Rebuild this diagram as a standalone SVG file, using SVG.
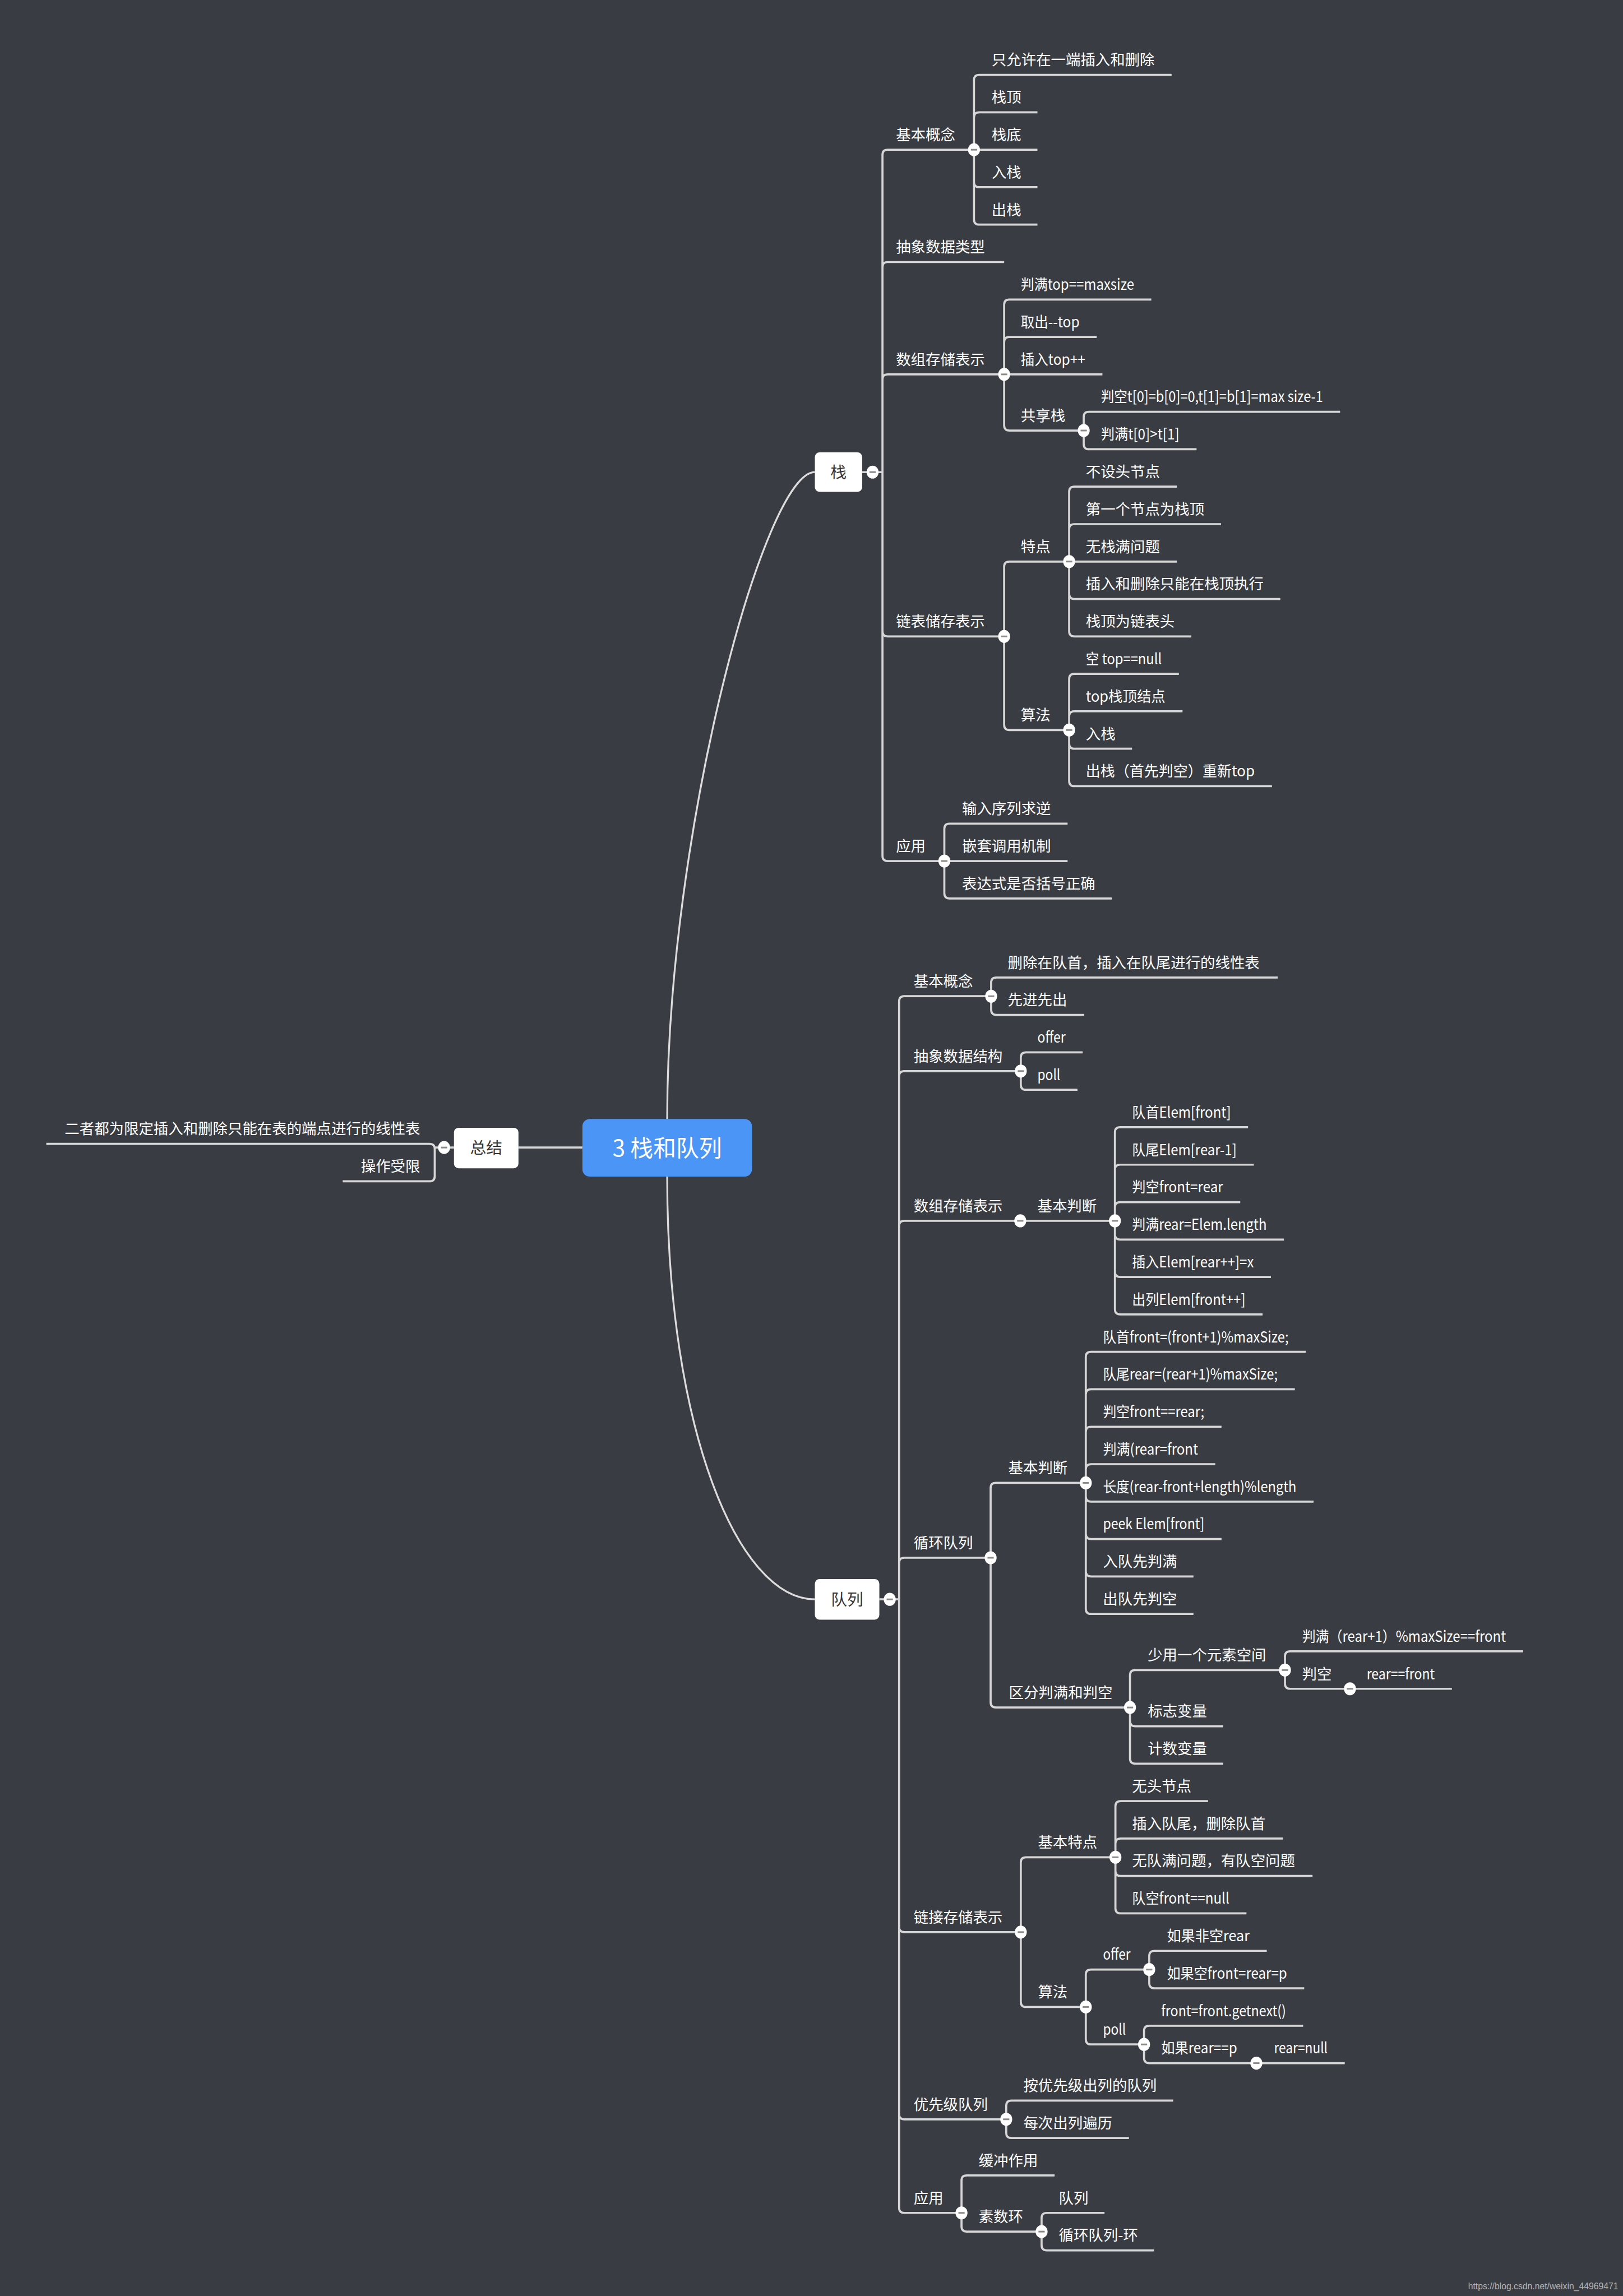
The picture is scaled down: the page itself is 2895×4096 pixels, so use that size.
<svg xmlns="http://www.w3.org/2000/svg" width="2895" height="4096" viewBox="0 0 2895 4096">
<defs>
<style>
.bg{fill:#393c42}
.ln{fill:none;stroke:#d6d6d6;stroke-width:4;stroke-linecap:butt;stroke-linejoin:round}
.cv{fill:none;stroke:#dcdcdc;stroke-width:3.5}
.t{font-family:"Noto Sans CJK SC","Noto Sans",sans-serif;font-size:28.5px;fill:#ffffff}
.tl{font-family:"Noto Sans CJK SC","Noto Sans",sans-serif;font-size:28.5px;fill:#ffffff;text-anchor:end}
.box{fill:#ffffff}
.bt{font-family:"Noto Sans CJK SC","Noto Sans",sans-serif;font-size:31px;fill:#353535;text-anchor:middle}
.root{fill:#4b95f7}
.rt{font-family:"Noto Sans CJK SC","Noto Sans",sans-serif;font-size:44px;fill:#ffffff;text-anchor:middle}
.wm{font-family:"Liberation Sans",Arial,sans-serif;font-size:17px;fill:#b4b4b4;text-anchor:end}
</style>
<g id="col"><ellipse rx="11.5" ry="12.5" fill="#ffffff"/><rect x="-6" y="-1.6" width="12" height="3.2" fill="#8a8a8a"/></g>
</defs>
<rect class="bg" x="0" y="0" width="2895" height="4096"/>
<g transform="scale(0.92757)">
<g id="connectors">
<path class="cv" d="M1283 2152 C1283 1600 1470 908 1567 908"/>
<path class="cv" d="M1283 2263 C1283 2750 1420 3076 1567 3076"/>
<path class="ln" d="M1120 2207 H997 M873 2207 H836 M89 2200 H826 Q836 2200 836 2210 V2262 Q836 2272 826 2272 H659"/>
<path class="ln" d="M1658 908 H1697
M1697 908 V298 Q1697 288 1707 288 H1873
M1697 908 V514 Q1697 504 1707 504 H1931
M1697 908 V730 Q1697 720 1707 720 H1931
M1697 908 V1214 Q1697 1224 1707 1224 H1931
M1697 908 V1646 Q1697 1656 1707 1656 H1816
M1873 288 V154 Q1873 144 1883 144 H2253
M1873 288 V226 Q1873 216 1883 216 H1995
M1873 288 H1995
M1873 288 V350 Q1873 360 1883 360 H1995
M1873 288 V422 Q1873 432 1883 432 H1995
M1931 720 V586 Q1931 576 1941 576 H2214
M1931 720 V658 Q1931 648 1941 648 H2109
M1931 720 H2120
M1931 720 V818 Q1931 828 1941 828 H2084
M2084 828 V802 Q2084 792 2094 792 H2577
M2084 828 V854 Q2084 864 2094 864 H2301
M1931 1224 V1090 Q1931 1080 1941 1080 H2056
M1931 1224 V1394 Q1931 1404 1941 1404 H2056
M2056 1080 V946 Q2056 936 2066 936 H2263
M2056 1080 V1018 Q2056 1008 2066 1008 H2348
M2056 1080 H2263
M2056 1080 V1142 Q2056 1152 2066 1152 H2462
M2056 1080 V1214 Q2056 1224 2066 1224 H2291
M2056 1404 V1306 Q2056 1296 2066 1296 H2267
M2056 1404 V1378 Q2056 1368 2066 1368 H2274
M2056 1404 V1430 Q2056 1440 2066 1440 H2177
M2056 1404 V1502 Q2056 1512 2066 1512 H2446
M1816 1656 V1594 Q1816 1584 1826 1584 H2053
M1816 1656 H2053
M1816 1656 V1718 Q1816 1728 1826 1728 H2138"/>
<path class="ln" d="M1691 3076 H1729
M1729 3076 V1926 Q1729 1916 1739 1916 H1906
M1729 3076 V2070 Q1729 2060 1739 2060 H1963
M1729 3076 V2358 Q1729 2348 1739 2348 H1962
M1729 3076 V3006 Q1729 2996 1739 2996 H1905
M1729 3076 V3706 Q1729 3716 1739 3716 H1963
M1729 3076 V4066 Q1729 4076 1739 4076 H1935
M1729 3076 V4246 Q1729 4256 1739 4256 H1849
M1906 1916 V1890 Q1906 1880 1916 1880 H2457
M1906 1916 V1942 Q1906 1952 1916 1952 H2085
M1963 2060 V2034 Q1963 2024 1973 2024 H2082
M1963 2060 V2086 Q1963 2096 1973 2096 H2072
M1962 2348 H2144
M2144 2348 V2178 Q2144 2168 2154 2168 H2400
M2144 2348 V2250 Q2144 2240 2154 2240 H2411
M2144 2348 V2322 Q2144 2312 2154 2312 H2385
M2144 2348 V2374 Q2144 2384 2154 2384 H2469
M2144 2348 V2446 Q2144 2456 2154 2456 H2444
M2144 2348 V2518 Q2144 2528 2154 2528 H2428
M1905 2996 V2862 Q1905 2852 1915 2852 H2088
M1905 2996 V3274 Q1905 3284 1915 3284 H2173
M2088 2852 V2610 Q2088 2600 2098 2600 H2511
M2088 2852 V2682 Q2088 2672 2098 2672 H2490
M2088 2852 V2754 Q2088 2744 2098 2744 H2349
M2088 2852 V2826 Q2088 2816 2098 2816 H2337
M2088 2852 V2878 Q2088 2888 2098 2888 H2526
M2088 2852 V2950 Q2088 2960 2098 2960 H2349
M2088 2852 V3022 Q2088 3032 2098 3032 H2295
M2088 2852 V3094 Q2088 3104 2098 3104 H2295
M2173 3284 V3222 Q2173 3212 2183 3212 H2471
M2173 3284 V3310 Q2173 3320 2183 3320 H2352
M2173 3284 V3382 Q2173 3392 2183 3392 H2352
M2471 3212 V3186 Q2471 3176 2481 3176 H2929
M2471 3212 V3238 Q2471 3248 2481 3248 H2596
M2596 3248 H2792
M1963 3716 V3582 Q1963 3572 1973 3572 H2145
M1963 3716 V3850 Q1963 3860 1973 3860 H2088
M2145 3572 V3474 Q2145 3464 2155 3464 H2323
M2145 3572 V3546 Q2145 3536 2155 3536 H2467
M2145 3572 V3598 Q2145 3608 2155 3608 H2524
M2145 3572 V3670 Q2145 3680 2155 3680 H2397
M2088 3860 V3798 Q2088 3788 2098 3788 H2210
M2088 3860 V3922 Q2088 3932 2098 3932 H2200
M2210 3788 V3762 Q2210 3752 2220 3752 H2436
M2210 3788 V3814 Q2210 3824 2220 3824 H2508
M2200 3932 V3906 Q2200 3896 2210 3896 H2506
M2200 3932 V3958 Q2200 3968 2210 3968 H2416
M2416 3968 H2586
M1935 4076 V4050 Q1935 4040 1945 4040 H2256
M1935 4076 V4102 Q1935 4112 1945 4112 H2171
M1849 4256 V4194 Q1849 4184 1859 4184 H2028
M1849 4256 V4282 Q1849 4292 1859 4292 H2003
M2003 4292 V4266 Q2003 4256 2013 4256 H2124
M2003 4292 V4318 Q2003 4328 2013 4328 H2219"/>
</g>

<g id="root"><rect class="root" x="1120" y="2152" width="326" height="111" rx="14"/><text class="rt" x="1283" y="2224">3 栈和队列</text></g>

<g id="summary"><rect class="box" x="873" y="2169" width="124" height="78" rx="9"/><text class="bt" x="935" y="2219">总结</text><use href="#col" x="854" y="2207"/></g>
<g id="summary-1"><text class="tl" x="808" y="2181.5">二者都为限定插入和删除只能在表的端点进行的线性表</text></g>
<g id="summary-2"><text class="tl" x="808" y="2253.5">操作受限</text></g>

<g id="stack"><rect class="box" x="1567" y="870" width="91" height="76" rx="9"/><text class="bt" x="1612.5" y="920">栈</text><use href="#col" x="1678" y="908"/></g>
<g id="s-basic"><text class="t" x="1723" y="269.5">基本概念</text><use href="#col" x="1873" y="288"/></g>
<g id="s-basic-1"><text class="t" x="1907" y="125.5">只允许在一端插入和删除</text></g>
<g id="s-basic-2"><text class="t" x="1907" y="197.5">栈顶</text></g>
<g id="s-basic-3"><text class="t" x="1907" y="269.5">栈底</text></g>
<g id="s-basic-4"><text class="t" x="1907" y="341.5">入栈</text></g>
<g id="s-basic-5"><text class="t" x="1907" y="413.5">出栈</text></g>
<g id="s-adt"><text class="t" x="1723" y="485.5">抽象数据类型</text></g>
<g id="s-array"><text class="t" x="1723" y="701.5">数组存储表示</text><use href="#col" x="1931" y="720"/></g>
<g id="s-array-1"><text class="t" x="1963" y="557.5" textLength="218" lengthAdjust="spacingAndGlyphs">判满top==maxsize</text></g>
<g id="s-array-2"><text class="t" x="1963" y="629.5" textLength="113" lengthAdjust="spacingAndGlyphs">取出--top</text></g>
<g id="s-array-3"><text class="t" x="1963" y="701.5" textLength="124" lengthAdjust="spacingAndGlyphs">插入top++</text></g>
<g id="s-share"><text class="t" x="1963" y="809.5">共享栈</text><use href="#col" x="2084" y="828"/></g>
<g id="s-share-1"><text class="t" x="2117" y="773.5" textLength="427" lengthAdjust="spacingAndGlyphs">判空t[0]=b[0]=0,t[1]=b[1]=max size-1</text></g>
<g id="s-share-2"><text class="t" x="2117" y="845.5" textLength="151" lengthAdjust="spacingAndGlyphs">判满t[0]&gt;t[1]</text></g>
<g id="s-link"><text class="t" x="1723" y="1205.5">链表储存表示</text><use href="#col" x="1931" y="1224"/></g>
<g id="s-feat"><text class="t" x="1963" y="1061.5">特点</text><use href="#col" x="2056" y="1080"/></g>
<g id="s-feat-1"><text class="t" x="2088" y="917.5">不设头节点</text></g>
<g id="s-feat-2"><text class="t" x="2088" y="989.5">第一个节点为栈顶</text></g>
<g id="s-feat-3"><text class="t" x="2088" y="1061.5">无栈满问题</text></g>
<g id="s-feat-4"><text class="t" x="2088" y="1133.5">插入和删除只能在栈顶执行</text></g>
<g id="s-feat-5"><text class="t" x="2088" y="1205.5">栈顶为链表头</text></g>
<g id="s-algo"><text class="t" x="1963" y="1385.5">算法</text><use href="#col" x="2056" y="1404"/></g>
<g id="s-algo-1"><text class="t" x="2088" y="1277.5" textLength="146" lengthAdjust="spacingAndGlyphs">空 top==null</text></g>
<g id="s-algo-2"><text class="t" x="2088" y="1349.5" textLength="153" lengthAdjust="spacingAndGlyphs">top栈顶结点</text></g>
<g id="s-algo-3"><text class="t" x="2088" y="1421.5">入栈</text></g>
<g id="s-algo-4"><text class="t" x="2088" y="1493.5" textLength="325" lengthAdjust="spacingAndGlyphs">出栈（首先判空）重新top</text></g>
<g id="s-app"><text class="t" x="1723" y="1637.5">应用</text><use href="#col" x="1816" y="1656"/></g>
<g id="s-app-1"><text class="t" x="1850" y="1565.5">输入序列求逆</text></g>
<g id="s-app-2"><text class="t" x="1850" y="1637.5">嵌套调用机制</text></g>
<g id="s-app-3"><text class="t" x="1850" y="1709.5">表达式是否括号正确</text></g>

<g id="queue"><rect class="box" x="1567" y="3037" width="124" height="78" rx="9"/><text class="bt" x="1629" y="3088">队列</text><use href="#col" x="1711" y="3076"/></g>
<g id="q-basic"><text class="t" x="1757" y="1897.5">基本概念</text><use href="#col" x="1906" y="1916"/></g>
<g id="q-basic-1"><text class="t" x="1938" y="1861.5">删除在队首，插入在队尾进行的线性表</text></g>
<g id="q-basic-2"><text class="t" x="1938" y="1933.5">先进先出</text></g>
<g id="q-adt"><text class="t" x="1757" y="2041.5">抽象数据结构</text><use href="#col" x="1963" y="2060"/></g>
<g id="q-adt-1"><text class="t" x="1995" y="2005.5" textLength="54" lengthAdjust="spacingAndGlyphs">offer</text></g>
<g id="q-adt-2"><text class="t" x="1995" y="2077.5" textLength="44" lengthAdjust="spacingAndGlyphs">poll</text></g>
<g id="q-array"><text class="t" x="1757" y="2329.5">数组存储表示</text><use href="#col" x="1962" y="2348"/></g>
<g id="q-array-judge"><text class="t" x="1995" y="2329.5">基本判断</text><use href="#col" x="2144" y="2348"/></g>
<g id="q-aj-1"><text class="t" x="2177" y="2149.5" textLength="190" lengthAdjust="spacingAndGlyphs">队首Elem[front]</text></g>
<g id="q-aj-2"><text class="t" x="2177" y="2221.5" textLength="201" lengthAdjust="spacingAndGlyphs">队尾Elem[rear-1]</text></g>
<g id="q-aj-3"><text class="t" x="2177" y="2293.5" textLength="175" lengthAdjust="spacingAndGlyphs">判空front=rear</text></g>
<g id="q-aj-4"><text class="t" x="2177" y="2365.5" textLength="259" lengthAdjust="spacingAndGlyphs">判满rear=Elem.length</text></g>
<g id="q-aj-5"><text class="t" x="2177" y="2437.5" textLength="234" lengthAdjust="spacingAndGlyphs">插入Elem[rear++]=x</text></g>
<g id="q-aj-6"><text class="t" x="2177" y="2509.5" textLength="218" lengthAdjust="spacingAndGlyphs">出列Elem[front++]</text></g>
<g id="q-circ"><text class="t" x="1757" y="2977.5">循环队列</text><use href="#col" x="1905" y="2996"/></g>
<g id="q-circ-judge"><text class="t" x="1939" y="2833.5">基本判断</text><use href="#col" x="2088" y="2852"/></g>
<g id="q-cj-1"><text class="t" x="2121" y="2581.5" textLength="357" lengthAdjust="spacingAndGlyphs">队首front=(front+1)%maxSize;</text></g>
<g id="q-cj-2"><text class="t" x="2121" y="2653.5" textLength="336" lengthAdjust="spacingAndGlyphs">队尾rear=(rear+1)%maxSize;</text></g>
<g id="q-cj-3"><text class="t" x="2121" y="2725.5" textLength="195" lengthAdjust="spacingAndGlyphs">判空front==rear;</text></g>
<g id="q-cj-4"><text class="t" x="2121" y="2797.5" textLength="183" lengthAdjust="spacingAndGlyphs">判满(rear=front</text></g>
<g id="q-cj-5"><text class="t" x="2121" y="2869.5" textLength="372" lengthAdjust="spacingAndGlyphs">长度(rear-front+length)%length</text></g>
<g id="q-cj-6"><text class="t" x="2121" y="2941.5" textLength="195" lengthAdjust="spacingAndGlyphs">peek Elem[front]</text></g>
<g id="q-cj-7"><text class="t" x="2121" y="3013.5">入队先判满</text></g>
<g id="q-cj-8"><text class="t" x="2121" y="3085.5">出队先判空</text></g>
<g id="q-dist"><text class="t" x="1940" y="3265.5">区分判满和判空</text><use href="#col" x="2173" y="3284"/></g>
<g id="q-less"><text class="t" x="2207" y="3193.5">少用一个元素空间</text><use href="#col" x="2471" y="3212"/></g>
<g id="q-less-1"><text class="t" x="2504" y="3157.5" textLength="392" lengthAdjust="spacingAndGlyphs">判满（rear+1）%maxSize==front</text></g>
<g id="q-less-2"><text class="t" x="2504" y="3229.5">判空</text><use href="#col" x="2596" y="3248"/></g>
<g id="q-less-2-1"><text class="t" x="2628" y="3229.5" textLength="131" lengthAdjust="spacingAndGlyphs">rear==front</text></g>
<g id="q-flag"><text class="t" x="2207" y="3301.5">标志变量</text></g>
<g id="q-count"><text class="t" x="2207" y="3373.5">计数变量</text></g>
<g id="q-link"><text class="t" x="1757" y="3697.5">链接存储表示</text><use href="#col" x="1963" y="3716"/></g>
<g id="q-lfeat"><text class="t" x="1996" y="3553.5">基本特点</text><use href="#col" x="2145" y="3572"/></g>
<g id="q-lf-1"><text class="t" x="2177" y="3445.5">无头节点</text></g>
<g id="q-lf-2"><text class="t" x="2177" y="3517.5">插入队尾，删除队首</text></g>
<g id="q-lf-3"><text class="t" x="2177" y="3589.5">无队满问题，有队空问题</text></g>
<g id="q-lf-4"><text class="t" x="2177" y="3661.5" textLength="187" lengthAdjust="spacingAndGlyphs">队空front==null</text></g>
<g id="q-lalgo"><text class="t" x="1996" y="3841.5">算法</text><use href="#col" x="2088" y="3860"/></g>
<g id="q-offer"><text class="t" x="2121" y="3769.5" textLength="53" lengthAdjust="spacingAndGlyphs">offer</text><use href="#col" x="2210" y="3788"/></g>
<g id="q-offer-1"><text class="t" x="2244" y="3733.5" textLength="159" lengthAdjust="spacingAndGlyphs">如果非空rear</text></g>
<g id="q-offer-2"><text class="t" x="2244" y="3805.5" textLength="231" lengthAdjust="spacingAndGlyphs">如果空front=rear=p</text></g>
<g id="q-poll"><text class="t" x="2121" y="3913.5" textLength="44" lengthAdjust="spacingAndGlyphs">poll</text><use href="#col" x="2200" y="3932"/></g>
<g id="q-poll-1"><text class="t" x="2233" y="3877.5" textLength="240" lengthAdjust="spacingAndGlyphs">front=front.getnext()</text></g>
<g id="q-poll-2"><text class="t" x="2233" y="3949.5" textLength="146" lengthAdjust="spacingAndGlyphs">如果rear==p</text><use href="#col" x="2416" y="3968"/></g>
<g id="q-poll-2-1"><text class="t" x="2450" y="3949.5" textLength="103" lengthAdjust="spacingAndGlyphs">rear=null</text></g>
<g id="q-prio"><text class="t" x="1757" y="4057.5">优先级队列</text><use href="#col" x="1935" y="4076"/></g>
<g id="q-prio-1"><text class="t" x="1968" y="4021.5">按优先级出列的队列</text></g>
<g id="q-prio-2"><text class="t" x="1968" y="4093.5">每次出列遍历</text></g>
<g id="q-app"><text class="t" x="1757" y="4237.5">应用</text><use href="#col" x="1849" y="4256"/></g>
<g id="q-app-1"><text class="t" x="1882" y="4165.5">缓冲作用</text></g>
<g id="q-ring"><text class="t" x="1882" y="4273.5">素数环</text><use href="#col" x="2003" y="4292"/></g>
<g id="q-ring-1"><text class="t" x="2036" y="4237.5">队列</text></g>
<g id="q-ring-2"><text class="t" x="2036" y="4309.5">循环队列-环</text></g>

<text class="wm" x="3112" y="4403">https://blog.csdn.net/weixin_44969471</text>
</g>
</svg>
